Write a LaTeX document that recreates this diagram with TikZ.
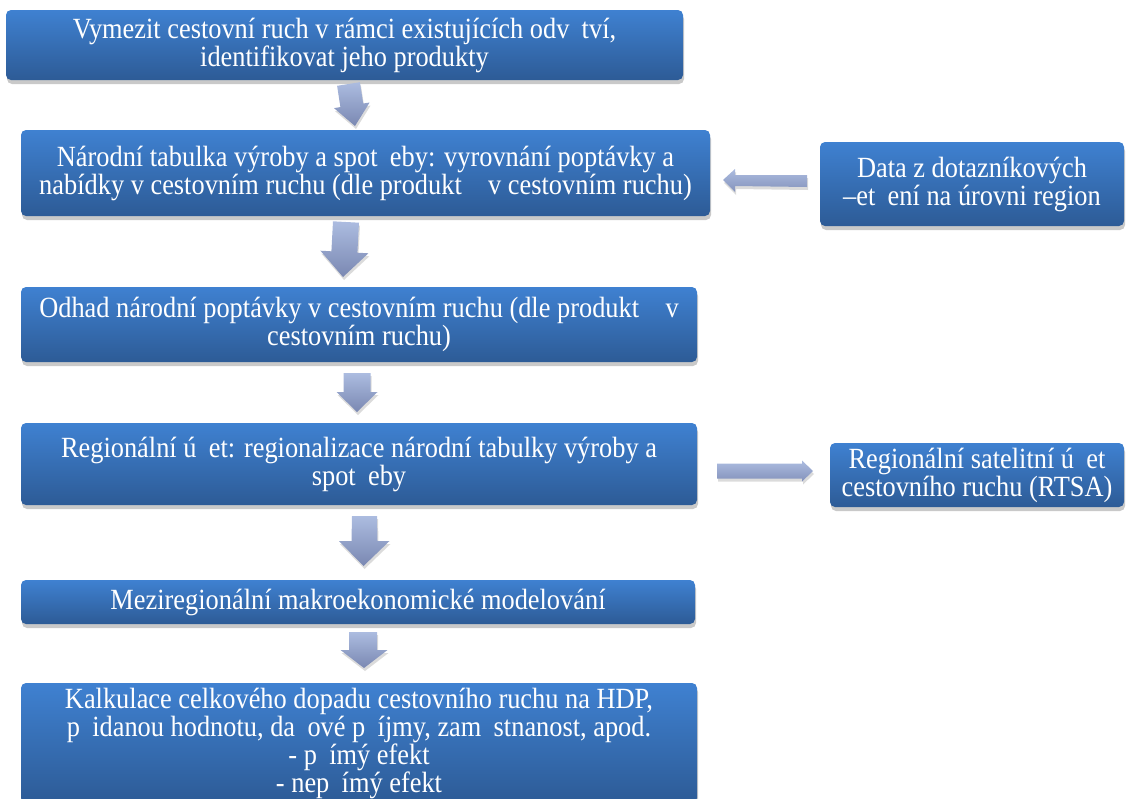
\documentclass[tikz,border=0pt]{standalone}
\usepackage{fontspec}
\setmainfont{Liberation Serif}
\newfontfamily\tms[FakeStretch=0.9]{Liberation Serif}
\usetikzlibrary{shadows}
\definecolor{boxtop}{RGB}{63,129,209}
\definecolor{boxbot}{RGB}{45,91,150}
\definecolor{arrtop}{RGB}{172,188,224}
\definecolor{arrbot}{RGB}{122,136,178}
\newcommand{\gp}{\hspace{0.42em}}
\tikzset{
  box/.style={rounded corners=5pt, top color=boxtop, bottom color=boxbot,
    text=white, align=center, inner sep=0pt,
    font=\tms\fontsize{29.3}{28}\selectfont,
    drop shadow={shadow xshift=1pt, shadow yshift=-4pt, opacity=0.3, fill=black!70}},
  blockarr/.style={top color=arrtop, bottom color=arrbot, draw=none,
    drop shadow={shadow xshift=1pt, shadow yshift=-3pt, opacity=0.2, fill=black!70}},
  sidearr/.style={top color=arrtop, bottom color=arrbot!80!arrtop, draw=none,
    drop shadow={shadow xshift=1pt, shadow yshift=-3pt, opacity=0.2, fill=black!70}},
}
\begin{document}
\begin{tikzpicture}[x=1pt,y=-1pt]
\useasboundingbox (0,0) rectangle (1126,798);
\clip (0,0) rectangle (1126,798);

\node[box, minimum width=677pt, minimum height=70pt] (b1) at (344.5,45)
  {Vymezit cestovní ruch v rámci existujících odv\gp tví,\\identifikovat jeho produkty};
\node[box, minimum width=689pt, minimum height=86pt] (b2) at (365.5,173)
  {Národní tabulka výroby a spot\gp eby: vyrovnání poptávky a\\nabídky v cestovním ruchu (dle produkt\hspace{0.9em}v cestovním ruchu)};
\node[box, minimum width=304pt, minimum height=84pt] (r1) at (972,184)
  {Data z dotazníkových\\–et\gp ení na úrovni region};
\node[box, minimum width=676pt, minimum height=75pt] (b3) at (359,324.5)
  {Odhad národní poptávky v cestovním ruchu (dle produkt\hspace{0.9em}v\\cestovním ruchu)};
\node[box, minimum width=676pt, minimum height=82pt] (b4) at (359,464)
  {Regionální ú\gp et: regionalizace národní tabulky výroby a\\spot\gp eby};
\node[box, minimum width=294pt, minimum height=64pt] (r2) at (977,475)
  {Regionální satelitní ú\gp et\\cestovního ruchu (RTSA)};
\node[box, minimum width=674pt, minimum height=44pt] (b5) at (358,602)
  {Meziregionální makroekonomické modelování};
\node[box, minimum width=676pt, minimum height=120pt] (b6) at (359,743)
  {Kalkulace celkového dopadu cestovního ruchu na HDP,\\p\gp idanou hodnotu, da\gp ové p\gp íjmy, zam\gp stnanost, apod.\\- p\gp ímý efekt\\- nep\gp ímý efekt};

% block arrows (b1 -> b2)
\path[blockarr] (337.1,85.8) -- (359.9,82.2) -- (363.2,103.5) -- (369.6,102.5)
  -- (355,126) -- (334.0,108.1) -- (340.4,107.1) -- cycle;
% b2 -> b3
\path[blockarr] (333,221.3) -- (359,222.7) -- (357.4,252.7) -- (368.4,253.3)
  -- (343,277) -- (320.4,250.7) -- (331.4,251.3) -- cycle;
% b3 -> b4
\path[blockarr] (343.5,373) -- (370.5,373) -- (370.5,392) -- (377.5,392)
  -- (357,412) -- (336.5,392) -- (343.5,392) -- cycle;
% b4 -> b5
\path[blockarr] (352,516) -- (377,516) -- (377.5,541) -- (389.5,541)
  -- (363.5,566) -- (339,541) -- (351.5,541) -- cycle;
% b5 -> b6
\path[blockarr] (349,632) -- (377,632) -- (377,650) -- (387.5,650)
  -- (364,668) -- (340.5,650) -- (349,650) -- cycle;
% r1 -> b2
\path[sidearr] (807,175) -- (807,187) -- (735,186) -- (735,192)
  -- (723,180) -- (735,169) -- (735,175) -- cycle;
% b4 -> r2
\path[sidearr] (717,463.5) -- (802,463.5) -- (802,460.5) -- (813,471)
  -- (802,481.5) -- (802,478.5) -- (717,478.5) -- cycle;
\end{tikzpicture}
\end{document}
